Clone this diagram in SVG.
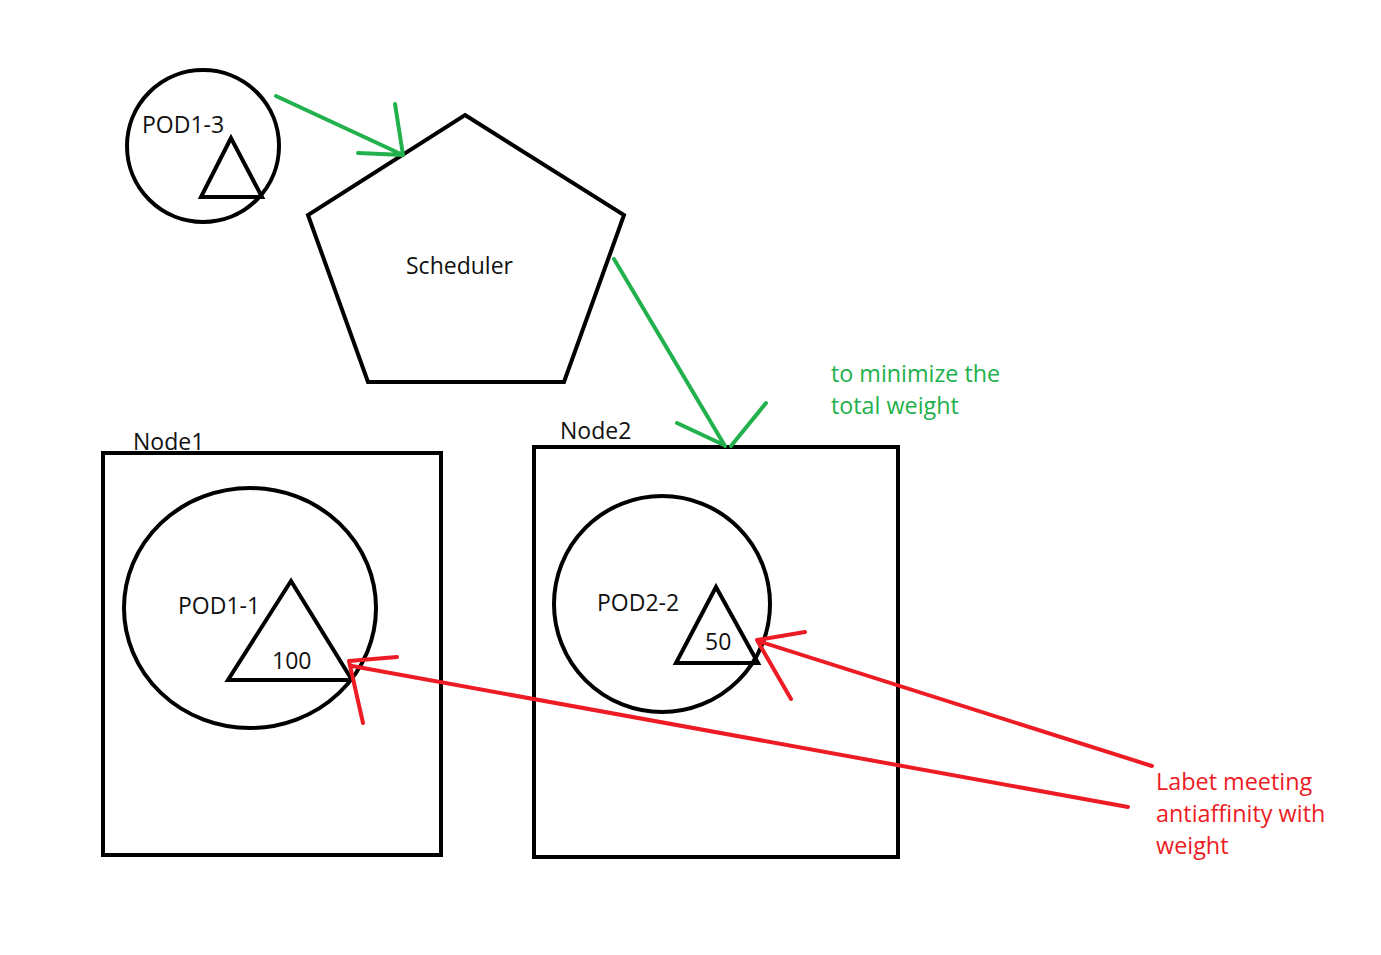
<svg xmlns="http://www.w3.org/2000/svg" width="1381" height="955" viewBox="0 0 1381 955">
<style>
.s{fill:none;stroke:#000;stroke-width:4}
.t{font-family:"Open Sans",Lato,sans-serif;font-size:23px;fill:#111}
.g{fill:none;stroke:#22b14c;stroke-width:4;stroke-linecap:round}
.r{fill:none;stroke:#ed1c24;stroke-width:4;stroke-linecap:round}
.gt{font-family:"Open Sans",Lato,sans-serif;font-size:23.3px;fill:#22b14c}
.rt{font-family:"Open Sans",Lato,sans-serif;font-size:23.4px;fill:#ed1c24}
</style>
<rect width="1381" height="955" fill="#fff"/>
<g id="pod1-3">
<circle class="s" cx="203" cy="146" r="76"/>
<polygon class="s" points="231,138 201,197 262,197"/>
<text class="t" x="142" y="133">POD1-3</text>
</g>
<g id="scheduler">
<polygon class="s" stroke-width="3" points="465,115 624,215 564,382 368,382 308,215"/>
<text class="t" x="406" y="274">Scheduler</text>
</g>
<g id="node1">
<rect class="s" x="103" y="453" width="338" height="402"/>
<text class="t" x="133" y="450">Node1</text>
</g>
<g id="pod1-1">
<ellipse class="s" cx="250" cy="608" rx="126" ry="120"/>
<polygon class="s" points="291,581 228,680 352,680"/>
<text class="t" x="178" y="614">POD1-1</text>
<text class="t" x="272" y="669">100</text>
</g>
<g id="node2">
<rect class="s" x="534" y="447" width="364" height="410"/>
<text class="t" x="560" y="439">Node2</text>
</g>
<g id="pod2-2">
<circle class="s" cx="662" cy="604" r="108"/>
<polygon class="s" points="716,587 676,663 758,663"/>
<text class="t" x="597" y="611">POD2-2</text>
<text class="t" x="705" y="650">50</text>
</g>
<g id="connectors">
<path class="g" d="M276,96 L403,155 M395,104 L403,155 M358,153 L403,155"/>
<path class="g" d="M614,259 L725,446 M677,423 L724,445 M766,403 L731,446"/>
<path class="r" d="M1128,807 L352,666 M349,661 L397,657 M349,661 L363,723"/>
<path class="r" d="M1152,766 L758,641 M757,640 L805,632 M757,640 L791,699"/>
</g>
<g id="labels">
<text class="gt" x="831" y="382">to minimize the</text>
<text class="gt" x="831" y="414">total weight</text>
<text class="rt" x="1156" y="790">Labet meeting</text>
<text class="rt" x="1156" y="822">antiaffinity with</text>
<text class="rt" x="1156" y="854">weight</text>
</g>
</svg>
